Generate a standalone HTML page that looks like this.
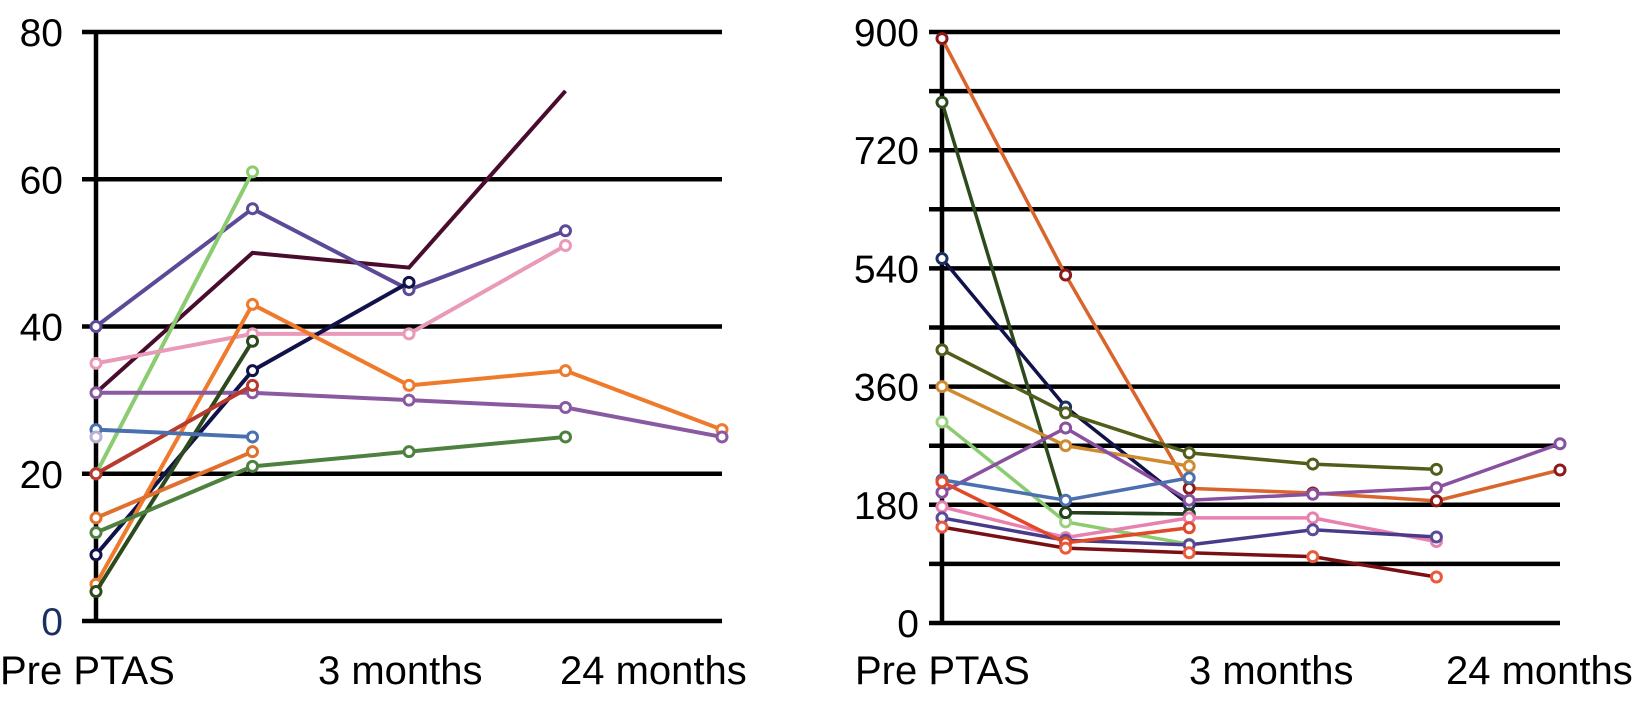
<!DOCTYPE html>
<html><head><meta charset="utf-8">
<style>
html,body{margin:0;padding:0;background:#fff;}
svg{display:block;font-family:"Liberation Sans",Arial,sans-serif;}
</style></head>
<body>
<svg id="chart" width="1642" height="704" viewBox="0 0 1642 704"></svg>
<script>
// ---- Left chart data ----
const leftCategories = ["Pre PTAS", "", "3 months", "", "24 months"];
const leftTicks = [0, 20, 40, 60, 80];
const leftSeriesNames = ["maroon","purple-blue","light-green","pink","navy","orange","purple","dark-green","red","blue","lavender","orange2","green"];
const leftColors = ["#4a0c2c","#5c4a98","#8ccc70","#e99ab9","#12124a","#ef7a2c","#8a5aa0","#2c4a1c","#b83a2e","#4a70b0","#b8b0d8","#e0702e","#4e8040"];
const leftMarkers = [false,true,true,true,true,true,true,true,true,true,true,true,true];
const leftValues = [
  [31, 50, 48, 72],
  [40, 56, 45, 53],
  [20, 61],
  [35, 39, 39, 51],
  [9, 34, 46],
  [5, 43, 32, 34, 26],
  [31, 31, 30, 29, 25],
  [4, 38],
  [20, 32],
  [26, 25],
  [25],
  [14, 23],
  [12, 21, 23, 25]
];
// ---- Right chart data ----
const rightCategories = ["Pre PTAS", "", "3 months", "", "24 months", ""];
const rightTicks = [0, 90, 180, 270, 360, 450, 540, 630, 720, 810, 900];
const rightTickLabels = ["0", "", "180", "", "360", "", "540", "", "720", "", "900"];
const rightSeriesNames = ["orange-red","dark-green","navy","olive","gold","light-green","purple","blue","dark-green2","pink","indigo","red","dark-red"];
const rightColors = ["#d9652c","#2c4a1c","#12124a","#4f5e1a","#d08a30","#8ccc70","#8a50a0","#4a70b0","#24401c","#e880b0","#4a3a8a","#e04a2a","#7a1014"];
const rightMarkerColors = ["#8b1a1a","#2c4a1c","#1a3060","#4f5e1a","#d08a30","#9ad080","#8a50a0","#4a70b0","#24401c","#e880b0","#5a4a98","#e04a2a","#e85a3a"];
const rightValues = [
  [890, 530, 205, 198, 186, 233],
  [793, 168, 166],
  [555, 329, 180],
  [416, 320, 259, 242, 234],
  [360, 270, 239],
  [306, 154, 120],
  [199, 297, 187, 196, 206, 273],
  [218, 187, 221],
  [null, 168, 166],
  [177, 130, 160, 160, 124],
  [160, 126, 119, 142, 131],
  [215, 122, 145],
  [146, 114, 107, 101, 70]
];

const NS = "http://www.w3.org/2000/svg";
const svg = document.getElementById("chart");
function mk(tag, attrs, parent) {
  const e = document.createElementNS(NS, tag);
  for (const k in attrs) e.setAttribute(k, attrs[k]);
  (parent || svg).appendChild(e);
  return e;
}

const L = {x0: 96, step: 156.5, y0: 621, yTop: 32, max: 80, right: 722};
const lx = i => L.x0 + i * L.step;
const ly = v => L.y0 - (v / L.max) * (L.y0 - L.yTop);
const R = {x0: 942, step: 123.6, y0: 623, yTop: 32, max: 900, right: 1560};
const rx = i => R.x0 + i * R.step;
const ry = v => R.y0 - (v / R.max) * (R.y0 - R.yTop);

const lg = mk("g", {});


leftTicks.forEach(t => {
  const ln = mk("line", {x1: 82, x2: L.right, y1: ly(t), y2: ly(t), stroke: "#000", "stroke-width": 4.5}, lg);
  
  
  const tx = mk("text", {x: 63, y: ly(t) + 14, "text-anchor": "end", "font-size": 39, fill: t === 0 ? "#1a3060" : "#000"}, lg);
  tx.textContent = t;
  
  
});
const lax = mk("line", {x1: L.x0, x2: L.x0, y1: L.yTop - 2, y2: L.y0 + 2, stroke: "#000", "stroke-width": 4.5}, lg);



const rg = mk("g", {});


rightTicks.forEach((t, i) => {
  const ln = mk("line", {x1: 929, x2: R.right, y1: ry(t), y2: ry(t), stroke: "#000", "stroke-width": 4.5}, rg);
  
  
  if (rightTickLabels[i]) {
    const tx = mk("text", {x: 919, y: ry(t) + 14, "text-anchor": "end", "font-size": 39, fill: "#000"}, rg);
    tx.textContent = rightTickLabels[i];
    
    
  }
});
const rax = mk("line", {x1: R.x0, x2: R.x0, y1: R.yTop - 2, y2: R.y0 + 2, stroke: "#000", "stroke-width": 4.5}, rg);



const leftLabelX = [0, null, 318, null, 560];
leftCategories.forEach((c, i) => {
  if (!c) return;
  const t = mk("text", {x: leftLabelX[i], y: 684, "font-size": 40, fill: "#000"}, lg);
  t.textContent = c;
  
  
});
const rightLabelX = [855, null, 1189, null, 1446, null];
rightCategories.forEach((c, i) => {
  if (!c) return;
  const t = mk("text", {x: rightLabelX[i], y: 684, "font-size": 40, fill: "#000"}, rg);
  t.textContent = c;
  
  
});

function drawSeries(parent, values, colors, mcolors, markers, xf, yf, names, sw, r, prefix) {
  values.forEach((vals, s) => {
    const g = mk("g", {}, parent);
    
    
    const pts = [];
    vals.forEach((v, i) => { if (v !== null) pts.push([xf(i), yf(v)]); });
    if (pts.length > 1) {
      const pl = mk("polyline", {points: pts.map(p => p.join(",")).join(" "), fill: "none", stroke: colors[s], "stroke-width": sw, "stroke-linejoin": "miter"}, g);
      
      
    }
    if (markers[s]) {
      pts.forEach(p => {
        const c = mk("circle", {cx: p[0], cy: p[1], r: r, fill: "#fff", stroke: mcolors[s], "stroke-width": 3}, g);
        
        
      });
    }
  });
}
drawSeries(lg, leftValues, leftColors, leftColors, leftMarkers, lx, ly, leftSeriesNames, 4, 5, 'left');
drawSeries(rg, rightValues, rightColors, rightMarkerColors, rightValues.map(() => true), rx, ry, rightSeriesNames, 3.5, 5, 'right');
</script>
</body></html>
